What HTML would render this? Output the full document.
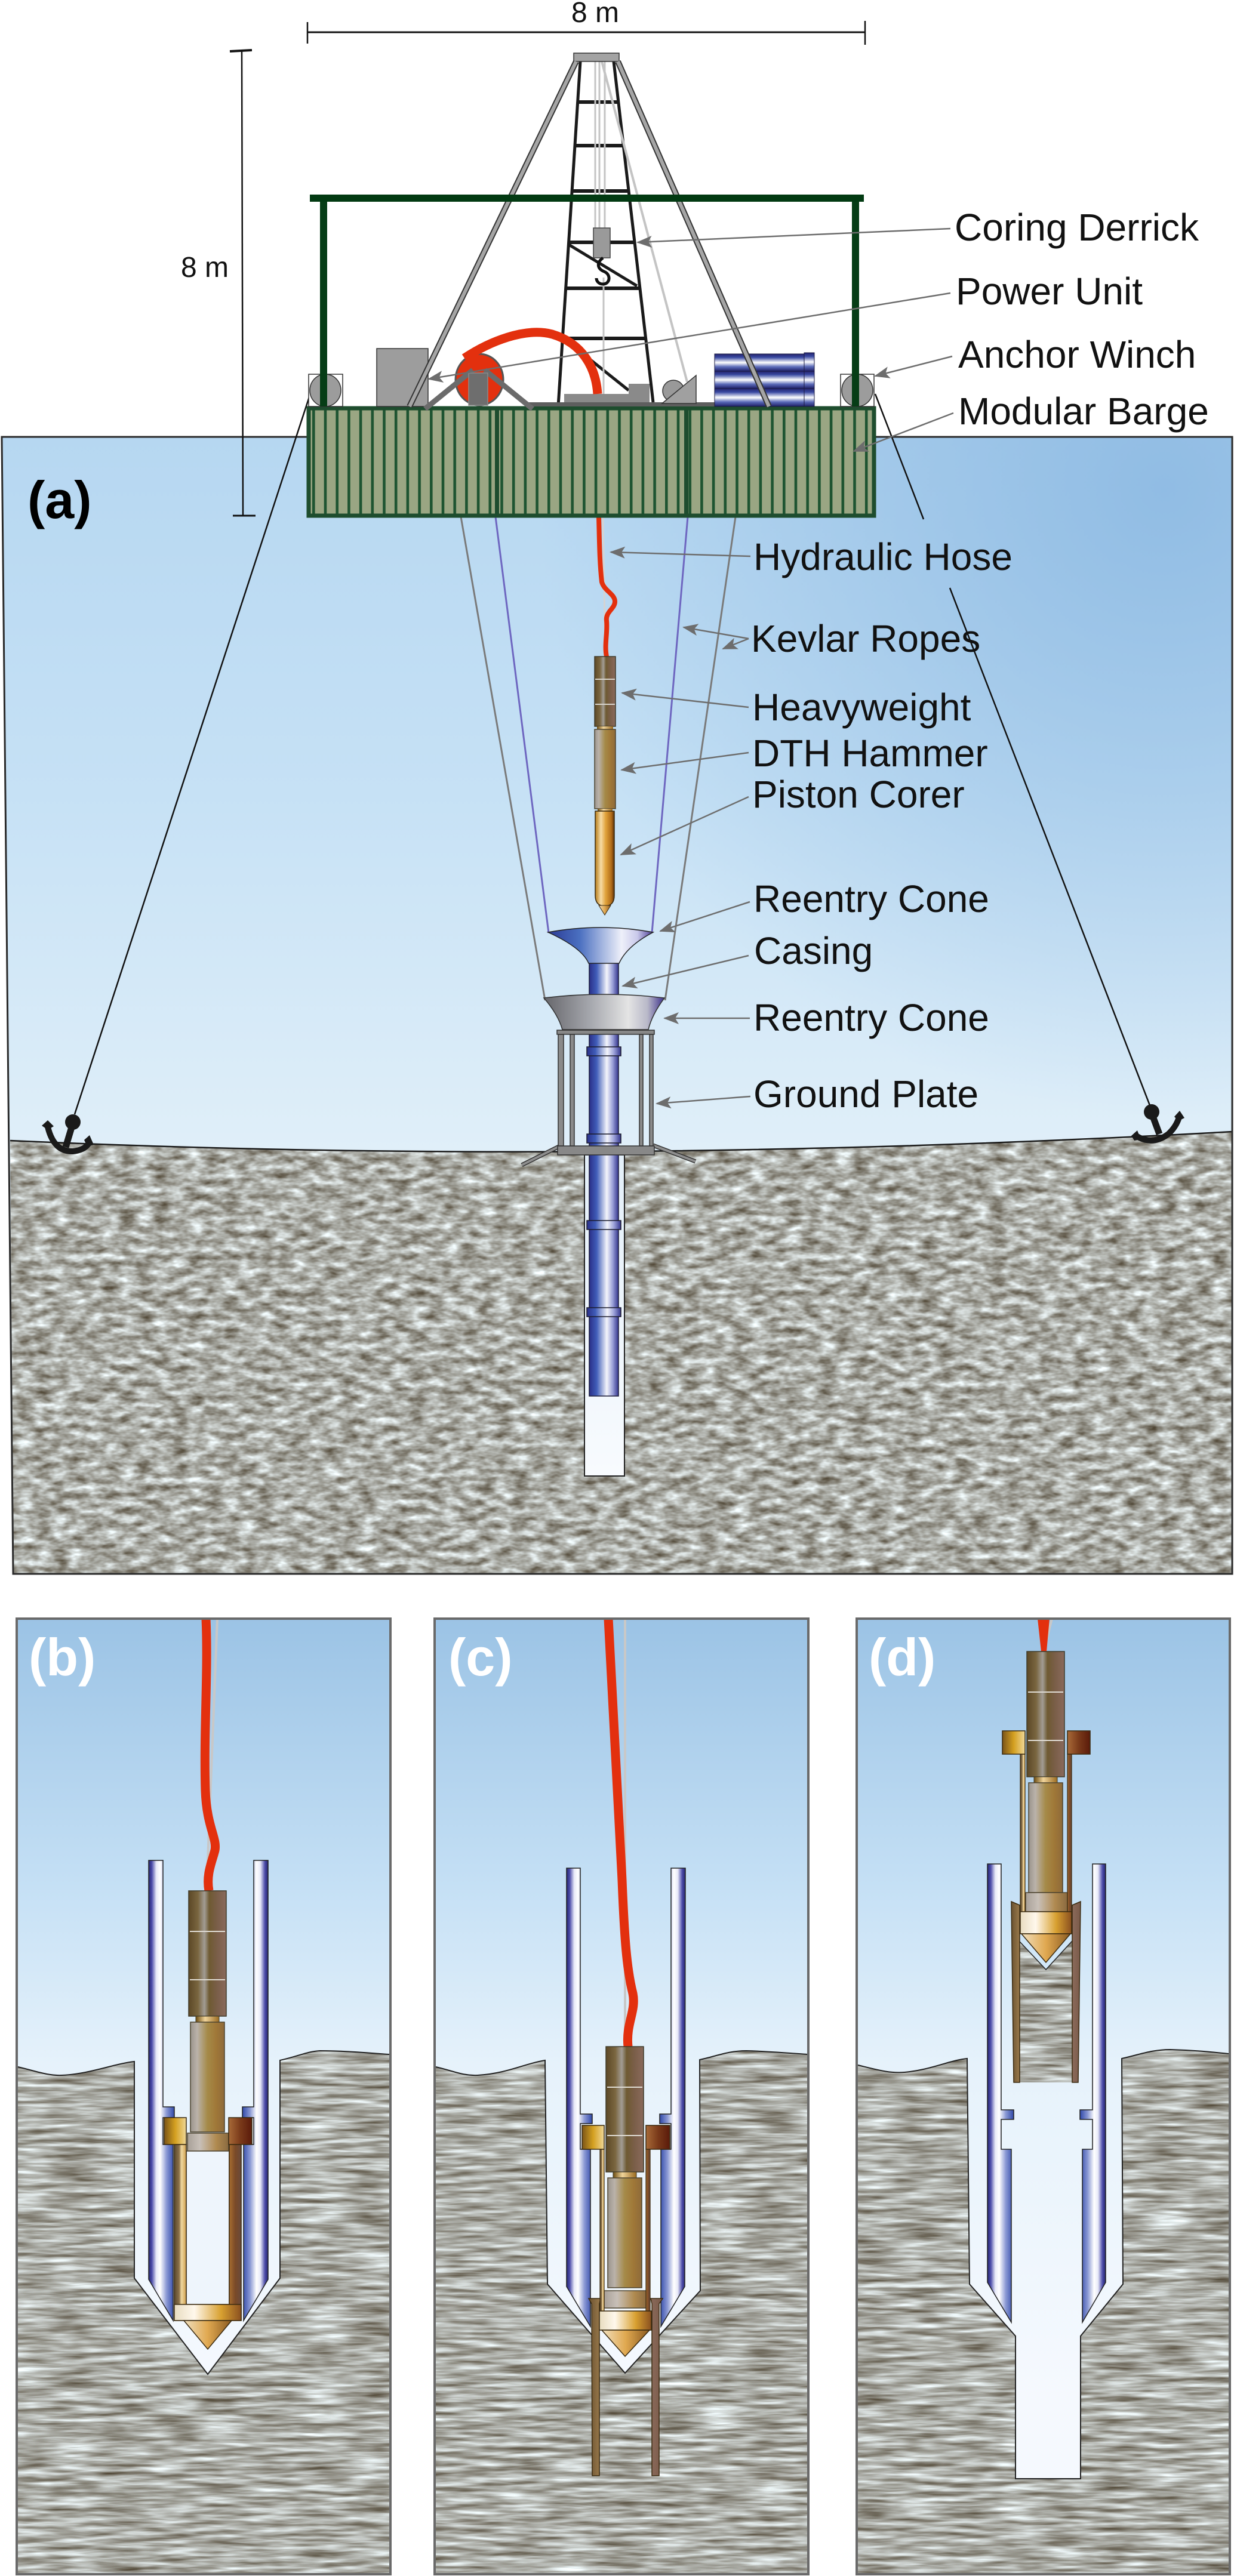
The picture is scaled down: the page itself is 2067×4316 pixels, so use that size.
<!DOCTYPE html>
<html><head><meta charset="utf-8">
<style>
html,body{margin:0;padding:0;background:#ffffff;}
svg{display:block;}
text{font-family:"Liberation Sans",Arial,sans-serif;}
</style></head>
<body>
<svg width="2067" height="4316" viewBox="0 0 2067 4316" xmlns="http://www.w3.org/2000/svg" xmlns:xlink="http://www.w3.org/1999/xlink">
<defs>
  <linearGradient id="wA" x1="0" y1="732" x2="0" y2="1930" gradientUnits="userSpaceOnUse">
    <stop offset="0" stop-color="#b6d7f1"/><stop offset="0.5" stop-color="#c6e1f5"/><stop offset="1" stop-color="#e0eff9"/>
  </linearGradient>
  <radialGradient id="wA2" cx="1950" cy="820" r="1050" gradientUnits="userSpaceOnUse">
    <stop offset="0" stop-color="#8cb9e2" stop-opacity="0.9"/><stop offset="1" stop-color="#8cb9e2" stop-opacity="0"/>
  </radialGradient>
  <linearGradient id="wB" x1="0" y1="2712" x2="0" y2="4000" gradientUnits="userSpaceOnUse">
    <stop offset="0" stop-color="#9bc3e5"/><stop offset="0.35" stop-color="#c5e0f5"/><stop offset="0.58" stop-color="#e6f2fb"/><stop offset="1" stop-color="#f5f9fe"/>
  </linearGradient>
  <linearGradient id="gHole" x1="0" y1="0" x2="0" y2="1">
    <stop offset="0" stop-color="#e3eff9"/><stop offset="1" stop-color="#f8fbfe"/>
  </linearGradient>

  <filter id="sedA" filterUnits="userSpaceOnUse" x="0" y="1850" width="2067" height="800" color-interpolation-filters="sRGB">
    <feTurbulence type="fractalNoise" baseFrequency="0.035 0.08" numOctaves="3" seed="5" result="n"/>
    <feColorMatrix in="n" type="matrix" values="0.84 0 0 0 0.25  0.94 0 0 0 0.205  1.04 0 0 0 0.13  0 0 0 0 1" result="c"/>
    <feComposite in="c" in2="SourceGraphic" operator="in"/>
  </filter>
  <filter id="sedB" filterUnits="userSpaceOnUse" x="0" y="3150" width="2067" height="1170" color-interpolation-filters="sRGB">
    <feTurbulence type="fractalNoise" baseFrequency="0.012 0.12" numOctaves="3" seed="11" result="n"/>
    <feColorMatrix in="n" type="matrix" values="0.84 0 0 0 0.25  0.94 0 0 0 0.205  1.04 0 0 0 0.13  0 0 0 0 1" result="c"/>
    <feComposite in="c" in2="SourceGraphic" operator="in"/>
  </filter>

  <pattern id="bargeP" x="523" y="0" width="19.7" height="50" patternUnits="userSpaceOnUse">
    <rect width="19.7" height="50" fill="#9aa683"/>
    <rect x="0" width="4.6" height="50" fill="#1e5431"/>
  </pattern>

  <linearGradient id="gDrum" x1="0" y1="0" x2="0" y2="1">
    <stop offset="0" stop-color="#24236e"/><stop offset="0.2" stop-color="#3a4aa2"/><stop offset="0.5" stop-color="#ffffff"/><stop offset="0.75" stop-color="#5a6ab8"/><stop offset="1" stop-color="#1e1e66"/>
  </linearGradient>
  <linearGradient id="gCas" x1="0" y1="0" x2="1" y2="0">
    <stop offset="0" stop-color="#2a2f88"/><stop offset="0.25" stop-color="#3f5cb8"/><stop offset="0.6" stop-color="#f4f5fb"/><stop offset="0.8" stop-color="#9aa0d8"/><stop offset="1" stop-color="#32338c"/>
  </linearGradient>
  <linearGradient id="gCone1" x1="0" y1="0" x2="1" y2="0">
    <stop offset="0" stop-color="#2b3a95"/><stop offset="0.3" stop-color="#4a6fc0"/><stop offset="0.7" stop-color="#eef0fa"/><stop offset="0.85" stop-color="#c9c9ea"/><stop offset="1" stop-color="#4a3a95"/>
  </linearGradient>
  <linearGradient id="gCone2" x1="0" y1="0" x2="1" y2="0">
    <stop offset="0" stop-color="#66666b"/><stop offset="0.4" stop-color="#a8aab0"/><stop offset="0.7" stop-color="#e4e4e4"/><stop offset="0.86" stop-color="#b8b8c8"/><stop offset="1" stop-color="#3c2f8c"/>
  </linearGradient>
  <linearGradient id="tubeL" x1="0" y1="0" x2="1" y2="0">
    <stop offset="0" stop-color="#262670"/><stop offset="0.12" stop-color="#4a4aa8"/><stop offset="0.3" stop-color="#e8eaf8"/><stop offset="0.45" stop-color="#ffffff"/><stop offset="0.7" stop-color="#8a98d4"/><stop offset="1" stop-color="#2f48a8"/>
  </linearGradient>
  <linearGradient id="tubeR" x1="0" y1="0" x2="1" y2="0">
    <stop offset="0" stop-color="#2f48a8"/><stop offset="0.3" stop-color="#8a98d4"/><stop offset="0.55" stop-color="#ffffff"/><stop offset="0.7" stop-color="#e8eaf8"/><stop offset="0.88" stop-color="#4a4aa8"/><stop offset="1" stop-color="#262670"/>
  </linearGradient>

  <linearGradient id="gHW" x1="0" y1="0" x2="1" y2="0">
    <stop offset="0" stop-color="#5c4826"/><stop offset="0.25" stop-color="#7a6640"/><stop offset="0.42" stop-color="#a29c94"/><stop offset="0.55" stop-color="#6e5a32"/><stop offset="0.75" stop-color="#7a5e48"/><stop offset="1" stop-color="#8a6a5c"/>
  </linearGradient>
  <linearGradient id="gDTH" x1="0" y1="0" x2="1" y2="0">
    <stop offset="0" stop-color="#9a948c"/><stop offset="0.2" stop-color="#bab2aa"/><stop offset="0.5" stop-color="#a58a48"/><stop offset="0.75" stop-color="#a07838"/><stop offset="1" stop-color="#8e6a3a"/>
  </linearGradient>
  <linearGradient id="gCon" x1="0" y1="0" x2="1" y2="0">
    <stop offset="0" stop-color="#6a4a10"/><stop offset="0.4" stop-color="#f0d49a"/><stop offset="1" stop-color="#9a6a20"/>
  </linearGradient>
  <linearGradient id="gFl" x1="0" y1="0" x2="1" y2="0">
    <stop offset="0" stop-color="#a8a098"/><stop offset="0.3" stop-color="#c8c0b8"/><stop offset="0.7" stop-color="#b08a50"/><stop offset="1" stop-color="#8a6a40"/>
  </linearGradient>
  <linearGradient id="gBrL" x1="0" y1="0" x2="1" y2="0">
    <stop offset="0" stop-color="#7a5418"/><stop offset="0.5" stop-color="#d4a020"/><stop offset="1" stop-color="#f0d898"/>
  </linearGradient>
  <linearGradient id="gBrR" x1="0" y1="0" x2="1" y2="0">
    <stop offset="0" stop-color="#a86a38"/><stop offset="0.5" stop-color="#7a3a1a"/><stop offset="1" stop-color="#5a1a0a"/>
  </linearGradient>
  <linearGradient id="gWallL" x1="0" y1="0" x2="1" y2="0">
    <stop offset="0" stop-color="#5a4a30"/><stop offset="0.4" stop-color="#8a7048"/><stop offset="0.6" stop-color="#f0d8a0"/><stop offset="1" stop-color="#d0a050"/>
  </linearGradient>
  <linearGradient id="gWallR" x1="0" y1="0" x2="1" y2="0">
    <stop offset="0" stop-color="#a86e30"/><stop offset="0.5" stop-color="#7a4a28"/><stop offset="1" stop-color="#6a4a3a"/>
  </linearGradient>
  <linearGradient id="gBot" x1="0" y1="0" x2="1" y2="0">
    <stop offset="0" stop-color="#e8dcc0"/><stop offset="0.3" stop-color="#fff8ec"/><stop offset="0.7" stop-color="#d8a030"/><stop offset="1" stop-color="#8a5020"/>
  </linearGradient>
  <linearGradient id="gTip" x1="0" y1="0" x2="1" y2="0">
    <stop offset="0" stop-color="#f0e0c0"/><stop offset="0.5" stop-color="#e0a850"/><stop offset="1" stop-color="#8a5a20"/>
  </linearGradient>
  <linearGradient id="gBarL" x1="0" y1="0" x2="1" y2="0">
    <stop offset="0" stop-color="#6a5230"/><stop offset="1" stop-color="#9a7a4c"/>
  </linearGradient>
  <linearGradient id="gBarR" x1="0" y1="0" x2="1" y2="0">
    <stop offset="0" stop-color="#8a6a5a"/><stop offset="1" stop-color="#7a5a4a"/>
  </linearGradient>
  <linearGradient id="gCorer" x1="0" y1="0" x2="1" y2="0">
    <stop offset="0" stop-color="#b57a18"/><stop offset="0.3" stop-color="#f6dca6"/><stop offset="0.55" stop-color="#e0a23a"/><stop offset="0.85" stop-color="#b06a18"/><stop offset="1" stop-color="#5a3008"/>
  </linearGradient>

  <marker id="arr" markerUnits="userSpaceOnUse" markerWidth="28" markerHeight="22" refX="24" refY="10" orient="auto">
    <path d="M0,0 L26,10 L0,20 L6,10 Z" fill="#6d6d6d"/>
  </marker>

  <g id="hd">
    <rect x="0" y="0" width="63" height="210" fill="url(#gHW)" stroke="#3e3a2a" stroke-width="1.5"/>
    <line x1="2" y1="68" x2="61" y2="68" stroke="#e0dcd4" stroke-width="2"/>
    <line x1="2" y1="149" x2="61" y2="149" stroke="#e0dcd4" stroke-width="2"/>
    <rect x="12" y="210" width="39" height="10" fill="url(#gCon)" stroke="#3e3a2a" stroke-width="1"/>
    <rect x="3" y="220" width="57" height="184" fill="url(#gDTH)" stroke="#4e4530" stroke-width="1.5"/>
  </g>
</defs>

<!-- ================= PANEL (a) ================= -->
<polygon points="3,732 2064,732 2064,2637 22,2637" fill="url(#wA)"/>
<polygon points="3,732 2064,732 2064,2637 22,2637" fill="url(#wA2)"/>
<path d="M17,1911 Q1000,1955 2064,1896 L2064,2637 L22,2637 Z" fill="#000" filter="url(#sedA)"/>
<path d="M17,1911 Q1000,1955 2064,1896" stroke="#1a1a1a" stroke-width="2.5" fill="none"/>
<polygon points="3,732 2064,732 2064,2637 22,2637" fill="none" stroke="#2a2a2a" stroke-width="3"/>

<text x="46" y="868" font-size="88" font-weight="bold" fill="#000">(a)</text>

<!-- dimension lines -->
<line x1="515" y1="54" x2="1449" y2="54" stroke="#111" stroke-width="3"/>
<line x1="515" y1="37" x2="515" y2="73" stroke="#111" stroke-width="2.5"/>
<line x1="1449" y1="35" x2="1449" y2="75" stroke="#111" stroke-width="2.5"/>
<text x="957" y="37" font-size="48" fill="#111">8 m</text>
<line x1="405" y1="85" x2="407" y2="864" stroke="#111" stroke-width="2.5"/>
<line x1="385" y1="86" x2="422" y2="84" stroke="#111" stroke-width="4"/>
<line x1="390" y1="864" x2="428" y2="864" stroke="#111" stroke-width="3"/>
<text x="303" y="464" font-size="48" fill="#111">8 m</text>

<!-- anchor lines -->
<line x1="519" y1="662" x2="125" y2="1867" stroke="#111" stroke-width="2.5"/>
<line x1="1466" y1="660" x2="1547" y2="870" stroke="#111" stroke-width="2.5"/>
<line x1="1591" y1="985" x2="1926" y2="1852" stroke="#111" stroke-width="2.5"/>

<!-- anchors -->
<circle cx="122" cy="1880" r="13" fill="#1a1a1a"/>
<path d="M122,1882 L110,1922" stroke="#1a1a1a" stroke-width="11"/>
<path d="M80,1888 Q90,1930 122,1929 Q142,1927 149,1915" stroke="#1a1a1a" stroke-width="10" fill="none"/>
<polygon points="70,1886 80,1877 90,1887 80,1893" fill="#1a1a1a"/>
<polygon points="141,1910 150,1902 157,1918 146,1921" fill="#1a1a1a"/>
<circle cx="1929" cy="1863" r="13" fill="#1a1a1a"/>
<path d="M1929,1865 L1942,1900" stroke="#1a1a1a" stroke-width="11"/>
<path d="M1903,1903 Q1930,1920 1957,1900 Q1970,1888 1975,1872" stroke="#1a1a1a" stroke-width="10" fill="none"/>
<polygon points="1895,1903 1905,1894 1911,1909 1900,1911" fill="#1a1a1a"/>
<polygon points="1967,1871 1976,1861 1984,1873 1974,1878" fill="#1a1a1a"/>

<!-- ropes -->
<line x1="772" y1="866" x2="913" y2="1676" stroke="#7a7a7a" stroke-width="3"/>
<line x1="1232" y1="866" x2="1114" y2="1676" stroke="#7a7a7a" stroke-width="3"/>
<line x1="830" y1="866" x2="919" y2="1563" stroke="#6e66c0" stroke-width="3"/>
<line x1="1152" y1="866" x2="1092" y2="1563" stroke="#6e66c0" stroke-width="3"/>

<!-- hole + casing -->
<rect x="979" y="1935" width="67" height="538" fill="url(#gHole)" stroke="#222" stroke-width="2"/>
<rect x="987" y="1613" width="49" height="726" fill="url(#gCas)" stroke="#1e1e3a" stroke-width="1.5"/>
<rect x="983" y="1754" width="57" height="15" fill="url(#gCas)" stroke="#1a1a2a" stroke-width="1.5"/>
<rect x="983" y="1900" width="57" height="15" fill="url(#gCas)" stroke="#1a1a2a" stroke-width="1.5"/>
<rect x="983" y="2045" width="57" height="15" fill="url(#gCas)" stroke="#1a1a2a" stroke-width="1.5"/>
<rect x="983" y="2191" width="57" height="15" fill="url(#gCas)" stroke="#1a1a2a" stroke-width="1.5"/>

<!-- ground plate -->
<line x1="936" y1="1921" x2="874" y2="1952" stroke="#333" stroke-width="7"/>
<line x1="936" y1="1921" x2="874" y2="1952" stroke="#8e8e8e" stroke-width="4"/>
<line x1="1094" y1="1919" x2="1165" y2="1946" stroke="#333" stroke-width="7"/>
<line x1="1094" y1="1919" x2="1165" y2="1946" stroke="#8e8e8e" stroke-width="4"/>
<rect x="935" y="1733" width="9" height="187" fill="#8a8a8a" stroke="#333" stroke-width="1.5"/>
<rect x="955" y="1733" width="7" height="187" fill="#8a8a8a" stroke="#333" stroke-width="1.5"/>
<rect x="1071" y="1733" width="6" height="187" fill="#8a8a8a" stroke="#333" stroke-width="1.5"/>
<rect x="1088" y="1733" width="6" height="187" fill="#8a8a8a" stroke="#333" stroke-width="1.5"/>
<rect x="934" y="1920" width="162" height="15" fill="#888" stroke="#333" stroke-width="1.5"/>
<rect x="933" y="1726" width="163" height="7" fill="#888" stroke="#333" stroke-width="1.5"/>

<!-- cones -->
<path d="M911,1672 Q1012,1660 1113,1672 Q1092,1700 1086,1725 L942,1725 Q935,1700 911,1672 Z" fill="url(#gCone2)" stroke="#333" stroke-width="1.5"/>
<path d="M918,1562 Q1006,1546 1094,1562 Q1050,1585 1037,1614 L986,1614 Q975,1588 918,1562 Z" fill="url(#gCone1)" stroke="#222" stroke-width="1.5"/>

<!-- tool string (a) -->
<line x1="1010" y1="866" x2="1014" y2="1100" stroke="#d4d4d4" stroke-width="3"/>
<path d="M1003,866 C1004,900 1004,940 1008,975 C1012,990 1030,995 1030,1008 C1030,1020 1014,1025 1016,1040 C1018,1060 1012,1080 1016,1100" stroke="#e3300e" stroke-width="8" fill="none"/>
<rect x="996" y="1100" width="35" height="117" fill="url(#gHW)" stroke="#3e3a2a" stroke-width="1.5"/>
<line x1="997" y1="1138" x2="1030" y2="1138" stroke="#d8d4cc" stroke-width="2"/>
<line x1="997" y1="1180" x2="1030" y2="1180" stroke="#d8d4cc" stroke-width="2"/>
<rect x="1000" y="1217" width="27" height="5" fill="url(#gCon)"/>
<rect x="996" y="1222" width="35" height="133" fill="url(#gDTH)" stroke="#4e4530" stroke-width="1.5"/>
<rect x="1001" y="1355" width="25" height="4" fill="url(#gCon)"/>
<path d="M997,1359 L1029,1359 L1029,1500 Q1029,1518 1013,1518 Q997,1518 997,1500 Z" fill="url(#gCorer)" stroke="#3a2a10" stroke-width="1.5"/>
<polygon points="1003,1517 1023,1517 1013,1533" fill="url(#gTip)" stroke="#3a2a10" stroke-width="1"/>

<!-- barge -->
<rect x="517" y="684" width="947" height="180" fill="url(#bargeP)" stroke="#1e4d2e" stroke-width="7"/>
<rect x="829" y="684" width="7" height="180" fill="#1e4d2e"/>
<rect x="1146" y="684" width="7" height="180" fill="#1e4d2e"/>

<!-- derrick (black) -->
<g stroke="#1a1a1a" stroke-linecap="butt">
  <line x1="972" y1="103" x2="935" y2="681" stroke-width="5"/>
  <line x1="1028" y1="103" x2="1094" y2="674" stroke-width="5"/>
  <line x1="967" y1="171" x2="1036" y2="171" stroke-width="6"/>
  <line x1="963" y1="244" x2="1044" y2="244" stroke-width="6"/>
  <line x1="958" y1="320" x2="1053" y2="320" stroke-width="6"/>
  <line x1="952" y1="406" x2="1063" y2="406" stroke-width="6"/>
  <line x1="947" y1="483" x2="1072" y2="483" stroke-width="6"/>
  <line x1="942" y1="567" x2="1082" y2="567" stroke-width="6"/>
  <line x1="953" y1="410" x2="1067" y2="479" stroke-width="5"/>
  <line x1="983" y1="598" x2="1053" y2="654" stroke-width="5"/>
</g>
<!-- cables -->
<g stroke="#c4c4c4" stroke-width="3">
  <line x1="997" y1="103" x2="997" y2="382"/>
  <line x1="1004" y1="103" x2="1004" y2="382"/>
  <line x1="1013" y1="103" x2="1013" y2="382"/>
  <line x1="1011" y1="465" x2="1011" y2="660"/>
  <line x1="1008" y1="103" x2="1151" y2="640" stroke-width="4"/>
</g>
<rect x="994" y="382" width="28" height="50" fill="#9a9a9a" stroke="#444" stroke-width="1.5"/>
<path d="M1010,432 C999,440 1000,450 1012,455 C1024,460 1022,476 1010,476 C1002,476 999,470 999,466" stroke="#111" stroke-width="5" fill="none"/>
<rect x="961" y="89" width="76" height="14" fill="#a3a3a3" stroke="#333" stroke-width="1.5"/>

<!-- deck items -->
<rect x="631" y="584" width="86" height="97" fill="#9d9d9d" stroke="#333" stroke-width="1.5"/>
<rect x="881" y="674" width="316" height="7" fill="#5e5e5e"/>
<rect x="945" y="660" width="143" height="14" fill="#8a8a8a"/>
<rect x="1053" y="643" width="35" height="17" fill="#8a8a8a"/>
<circle cx="1128" cy="655" r="18" fill="#999" stroke="#333" stroke-width="1.5"/>
<polygon points="1109,676 1166,629 1166,676" fill="#a0a0a0" stroke="#333" stroke-width="1.5"/>
<g stroke="#1a1a40" stroke-width="1">
  <rect x="1197" y="593" width="150" height="29" fill="url(#gDrum)"/>
  <rect x="1197" y="622" width="150" height="29" fill="url(#gDrum)"/>
  <rect x="1197" y="651" width="150" height="30" fill="url(#gDrum)"/>
  <rect x="1347" y="591" width="17" height="31" fill="url(#gDrum)"/>
  <rect x="1347" y="622" width="17" height="29" fill="url(#gDrum)"/>
  <rect x="1347" y="651" width="17" height="30" fill="url(#gDrum)"/>
</g>
<ellipse cx="803" cy="636" rx="40" ry="43" fill="#e3300e" stroke="#555" stroke-width="3"/>
<line x1="792" y1="620" x2="712" y2="685" stroke="#6b6b6b" stroke-width="9"/>
<line x1="812" y1="620" x2="892" y2="685" stroke="#6b6b6b" stroke-width="9"/>
<rect x="785" y="625" width="32" height="54" fill="#6e6e6e" stroke="#8a8a8a" stroke-width="1.5"/>
<!-- winches -->
<rect x="517" y="627" width="57" height="54" fill="#fff" stroke="#333" stroke-width="1.5"/>
<ellipse cx="545" cy="654" rx="26" ry="27" fill="#9c9c9c" stroke="#333" stroke-width="1.5"/>
<rect x="1408" y="627" width="56" height="54" fill="#fff" stroke="#333" stroke-width="1.5"/>
<ellipse cx="1436" cy="654" rx="26" ry="27" fill="#9c9c9c" stroke="#333" stroke-width="1.5"/>

<!-- A-frame grey legs -->
<line x1="965" y1="103" x2="686" y2="681" stroke="#333" stroke-width="10"/>
<line x1="965" y1="103" x2="686" y2="681" stroke="#a5a5a5" stroke-width="6"/>
<line x1="1035" y1="103" x2="1288" y2="681" stroke="#333" stroke-width="10"/>
<line x1="1035" y1="103" x2="1288" y2="681" stroke="#a5a5a5" stroke-width="6"/>

<!-- green frame -->
<rect x="519" y="326" width="928" height="12" fill="#023a12"/>
<rect x="536" y="338" width="12" height="343" fill="#063d16"/>
<rect x="1427" y="338" width="12" height="343" fill="#063d16"/>

<!-- deck red hose -->
<path d="M778,600 C820,572 880,548 925,560 C975,575 998,615 1001,660" stroke="#e3300e" stroke-width="15" fill="none"/>

<!-- labels (a) -->
<g font-size="64" fill="#111">
  <text x="1599" y="403">Coring Derrick</text>
  <text x="1601" y="510">Power Unit</text>
  <text x="1605" y="616">Anchor Winch</text>
  <text x="1605" y="711">Modular Barge</text>
  <text x="1262" y="955">Hydraulic Hose</text>
  <text x="1258" y="1092">Kevlar Ropes</text>
  <text x="1260" y="1207">Heavyweight</text>
  <text x="1260" y="1284">DTH Hammer</text>
  <text x="1260" y="1353">Piston Corer</text>
  <text x="1262" y="1528">Reentry Cone</text>
  <text x="1263" y="1615">Casing</text>
  <text x="1262" y="1727">Reentry Cone</text>
  <text x="1262" y="1855">Ground Plate</text>
</g>
<g stroke="#6d6d6d" stroke-width="2.5" fill="none" marker-end="url(#arr)">
  <line x1="1592" y1="383" x2="1068" y2="406"/>
  <line x1="1592" y1="491" x2="718" y2="635"/>
  <line x1="1595" y1="597" x2="1466" y2="630"/>
  <line x1="1597" y1="692" x2="1430" y2="756"/>
  <line x1="1257" y1="932" x2="1023" y2="925"/>
  <line x1="1254" y1="1070" x2="1145" y2="1051"/>
  <line x1="1254" y1="1070" x2="1211" y2="1087"/>
  <line x1="1254" y1="1185" x2="1042" y2="1161"/>
  <line x1="1254" y1="1261" x2="1041" y2="1290"/>
  <line x1="1254" y1="1335" x2="1040" y2="1432"/>
  <line x1="1256" y1="1511" x2="1106" y2="1560"/>
  <line x1="1254" y1="1601" x2="1043" y2="1652"/>
  <line x1="1256" y1="1706" x2="1113" y2="1706"/>
  <line x1="1257" y1="1837" x2="1100" y2="1849"/>
</g>

<!-- ================= PANEL (b) ================= -->
<rect x="28" y="2712" width="626" height="1601" fill="url(#wB)"/>
<path d="M30,3463 C60,3470 80,3478 103,3477 C150,3475 190,3458 225,3454 L225,3817 L348,3978 L469,3817 L469,3452 C500,3445 515,3437 536,3436 C580,3436 620,3440 652,3442 L652,4311 L30,4311 Z" fill="#000" filter="url(#sedB)"/>
<path d="M30,3463 C60,3470 80,3478 103,3477 C150,3475 190,3458 225,3454 L225,3817 L348,3978 L469,3817 L469,3452 C500,3445 515,3437 536,3436 C580,3436 620,3440 652,3442" fill="none" stroke="#222" stroke-width="2"/>
<polygon points="249,3117 273,3117 273,3530 292,3530 292,3548 273,3548 273,3593 290,3593 290,3888 249,3819" fill="url(#tubeL)" stroke="#222" stroke-width="1.5"/>
<polygon points="449,3117 425,3117 425,3530 406,3530 406,3548 425,3548 425,3593 408,3593 408,3888 449,3819" fill="url(#tubeR)" stroke="#222" stroke-width="1.5"/>
<line x1="364" y1="2712" x2="346" y2="3168" stroke="#c8c8c8" stroke-width="4"/>
<path d="M345,2712 C349,2800 341,2900 344,3000 C346,3060 364,3080 360,3100 C355,3120 345,3140 350,3168" stroke="#e3300e" stroke-width="15" fill="none"/>
<use xlink:href="#hd" x="316" y="3168"/>
<rect x="314" y="3574" width="69" height="30" fill="url(#gFl)" stroke="#4e4530" stroke-width="1.5"/>
<rect x="312" y="3604" width="72" height="257" fill="#eef5fc" stroke="#4e4530" stroke-width="1.5"/>
<rect x="292" y="3593" width="20" height="295" fill="url(#gWallL)" stroke="#3a2a10" stroke-width="1.5"/>
<rect x="384" y="3593" width="20" height="295" fill="url(#gWallR)" stroke="#3a2a10" stroke-width="1.5"/>
<rect x="275" y="3548" width="37" height="45" fill="url(#gBrL)" stroke="#3a2a10" stroke-width="1.5"/>
<rect x="383" y="3548" width="39" height="45" fill="url(#gBrR)" stroke="#3a2a10" stroke-width="1.5"/>
<rect x="292" y="3861" width="112" height="27" fill="url(#gBot)" stroke="#3a2a10" stroke-width="1.5"/>
<polygon points="308,3888 388,3888 348,3936" fill="url(#gTip)" stroke="#3a2a10" stroke-width="1.5"/>
<text x="48" y="2807" font-size="88" font-weight="bold" fill="#ffffff">(b)</text>
<rect x="28" y="2712" width="626" height="1601" fill="none" stroke="#6a6a6a" stroke-width="4"/>

<!-- ================= PANEL (c) ================= -->
<rect x="728" y="2712" width="626" height="1601" fill="url(#wB)"/>
<path d="M730,3463 C760,3470 775,3478 800,3477 C850,3474 880,3457 913,3452 L917,3827 L1047,3976 L1173,3838 L1172,3451 C1200,3445 1220,3436 1250,3436 C1290,3437 1320,3440 1352,3442 L1352,4311 L730,4311 Z" fill="#000" filter="url(#sedB)"/>
<path d="M730,3463 C760,3470 775,3478 800,3477 C850,3474 880,3457 913,3452 L917,3827 L1047,3976 L1173,3838 L1172,3451 C1200,3445 1220,3436 1250,3436 C1290,3437 1320,3440 1352,3442" fill="none" stroke="#222" stroke-width="2"/>
<polygon points="949,3130 972,3130 972,3542 992,3542 992,3558 972,3558 972,3601 989,3601 989,3898 949,3831" fill="url(#tubeL)" stroke="#222" stroke-width="1.5"/>
<polygon points="1148,3130 1124,3130 1124,3542 1105,3542 1105,3558 1124,3558 1124,3601 1107,3601 1107,3898 1147,3831" fill="url(#tubeR)" stroke="#222" stroke-width="1.5"/>
<!-- barrel walls -->
<polygon points="986,3851 1006,3851 1004,3860 1004,4148 992,4148 991,3860" fill="url(#gBarL)" stroke="#3a2a10" stroke-width="1.5"/>
<polygon points="1090,3851 1110,3851 1104,3860 1104,4148 1092,4148 1092,3860" fill="url(#gBarR)" stroke="#3a2a10" stroke-width="1.5"/>
<line x1="1047" y1="2712" x2="1047" y2="3429" stroke="#c8c8c8" stroke-width="4"/>
<path d="M1019,2712 C1025,2850 1035,3000 1042,3150 C1046,3250 1050,3300 1060,3340 C1066,3370 1048,3390 1052,3429" stroke="#e3300e" stroke-width="15" fill="none"/>
<use xlink:href="#hd" x="1015" y="3429"/>
<rect x="1012" y="3838" width="72" height="29" fill="url(#gFl)" stroke="#4e4530" stroke-width="1.5"/>
<rect x="1005" y="3601" width="7" height="271" fill="url(#gWallL)" stroke="#3a2a10" stroke-width="1.2"/>
<rect x="1082" y="3601" width="7" height="271" fill="url(#gWallR)" stroke="#3a2a10" stroke-width="1.2"/>
<rect x="975" y="3561" width="37" height="40" fill="url(#gBrL)" stroke="#3a2a10" stroke-width="1.5"/>
<rect x="1082" y="3561" width="40" height="40" fill="url(#gBrR)" stroke="#3a2a10" stroke-width="1.5"/>
<rect x="1004" y="3872" width="87" height="32" fill="url(#gBot)" stroke="#3a2a10" stroke-width="1.5"/>
<polygon points="1008,3904 1088,3904 1047,3948" fill="url(#gTip)" stroke="#3a2a10" stroke-width="1.5"/>
<text x="751" y="2807" font-size="88" font-weight="bold" fill="#ffffff">(c)</text>
<rect x="728" y="2712" width="626" height="1601" fill="none" stroke="#6a6a6a" stroke-width="4"/>

<!-- ================= PANEL (d) ================= -->
<rect x="1435" y="2712" width="625" height="1601" fill="url(#wB)"/>
<path d="M1437,3460 C1470,3468 1490,3474 1515,3472 C1560,3468 1590,3452 1620,3449 L1624,3827 L1701,3914 L1701,4153 L1810,4153 L1810,3914 L1881,3827 L1879,3449 C1910,3442 1930,3434 1960,3434 C2000,3435 2030,3438 2058,3441 L2058,4311 L1437,4311 Z" fill="#000" filter="url(#sedB)"/>
<path d="M1437,3460 C1470,3468 1490,3474 1515,3472 C1560,3468 1590,3452 1620,3449 L1624,3827 L1701,3914 L1701,4153 L1810,4153 L1810,3914 L1881,3827 L1879,3449 C1910,3442 1930,3434 1960,3434 C2000,3435 2030,3438 2058,3441" fill="none" stroke="#222" stroke-width="2"/>
<polygon points="1654,3123 1677,3123 1677,3535 1698,3535 1698,3551 1677,3551 1677,3601 1694,3601 1694,3891 1654,3824" fill="url(#tubeL)" stroke="#222" stroke-width="1.5"/>
<polygon points="1852,3123 1830,3123 1830,3535 1809,3535 1809,3551 1830,3551 1830,3601 1813,3601 1813,3891 1852,3824" fill="url(#tubeR)" stroke="#222" stroke-width="1.5"/>
<!-- barrel & core -->
<path d="M1707,3252 L1752,3300 L1796,3252 L1796,3489 L1707,3489 Z" fill="#000" filter="url(#sedB)"/>
<path d="M1707,3252 L1752,3300 L1796,3252" fill="none" stroke="#222" stroke-width="1.5"/>
<polygon points="1694,3186 1708,3192 1708,3489 1698,3489" fill="url(#gBarL)" stroke="#3a2a10" stroke-width="1.5"/>
<polygon points="1810,3186 1796,3192 1796,3489 1806,3489" fill="url(#gBarR)" stroke="#3a2a10" stroke-width="1.5"/>
<line x1="1762" y1="2712" x2="1748" y2="2767" stroke="#c8c8c8" stroke-width="4"/>
<polygon points="1738,2712 1758,2712 1753,2767 1744,2767" fill="#e3300e"/>
<use xlink:href="#hd" x="1720" y="2767"/>
<rect x="1718" y="3171" width="70" height="32" fill="url(#gFl)" stroke="#4e4530" stroke-width="1.5"/>
<rect x="1709" y="2939" width="8" height="264" fill="url(#gWallL)" stroke="#3a2a10" stroke-width="1.2"/>
<rect x="1788" y="2939" width="7" height="264" fill="url(#gWallR)" stroke="#3a2a10" stroke-width="1.2"/>
<rect x="1679" y="2900" width="38" height="39" fill="url(#gBrL)" stroke="#3a2a10" stroke-width="1.5"/>
<rect x="1788" y="2900" width="38" height="39" fill="url(#gBrR)" stroke="#3a2a10" stroke-width="1.5"/>
<rect x="1709" y="3203" width="86" height="37" fill="url(#gBot)" stroke="#3a2a10" stroke-width="1.5"/>
<polygon points="1711,3240 1793,3240 1752,3288" fill="url(#gTip)" stroke="#3a2a10" stroke-width="1.5"/>
<text x="1455" y="2807" font-size="88" font-weight="bold" fill="#ffffff">(d)</text>
<rect x="1435" y="2712" width="625" height="1601" fill="none" stroke="#6a6a6a" stroke-width="4"/>
</svg>
</body></html>
